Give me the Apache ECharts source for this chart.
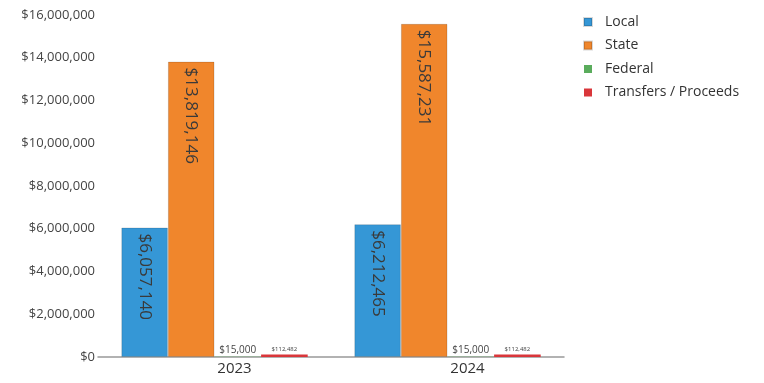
<!DOCTYPE html>
<html>
<head>
<meta charset="utf-8">
<script src="https://cdn.jsdelivr.net/npm/echarts@6/dist/echarts.min.js"></script>
<style>
  html, body { margin: 0; padding: 0; background: #fff; }
  #chart { width: 764px; height: 383px; }
</style>
</head>
<body>
<div id="chart"></div>
<script>
// revenue by source, two fiscal years
const YEARS     = ["2023", "2024"];
const LOCAL     = [6057140, 6212465];
const STATE     = [13819146, 15587231];
const FEDERAL   = [15000, 15000];
const TRANSFERS = [112482, 112482];
const Y_TICKS   = [0, 2000000, 4000000, 6000000, 8000000, 10000000, 12000000, 14000000, 16000000];

const FONT = "'Open Sans', 'Noto Sans', sans-serif";
const money = v => "$" + Math.round(v).toLocaleString("en-US");

const SRC = [
  { name: "Local",               data: LOCAL,     color: "#3597d6", big: true },
  { name: "State",               data: STATE,     color: "#f0862c", big: true },
  { name: "Federal",             data: FEDERAL,   color: "#5aac5c", big: false, fs: 10 },
  { name: "Transfers / Proceeds", data: TRANSFERS, color: "#d9363a", big: false, fs: 6 },
];

const chart = echarts.init(document.getElementById("chart"));

const series = SRC.map(s => ({
  name: s.name, type: "bar", data: s.data,
  barGap: "0%", barCategoryGap: "20%",
  itemStyle: { color: s.color, borderColor: "rgba(0,0,0,0.15)", borderWidth: s.big ? 1 : 0 },
  label: s.big
    ? { show: true, position: "insideTop", rotate: -90, align: "left", verticalAlign: "middle",
        distance: 6, fontSize: 17, color: "#3a3a3a", fontFamily: FONT, formatter: p => money(p.value) }
    : { show: true, position: "top", distance: 2, fontSize: s.fs, color: "#444", fontFamily: FONT,
        formatter: p => money(p.value) },
}));

chart.setOption({
  backgroundColor: "#fff", animation: false,
  textStyle: { fontFamily: FONT },
  grid: { left: 98, right: 200, top: 15, bottom: 26 },
  legend: {
    data: SRC.map(s => s.name), orient: "vertical", left: 578, top: 10,
    itemWidth: 8, itemHeight: 8, itemGap: 9.5, icon: "rect",
    textStyle: { color: "#333", fontSize: 14, fontFamily: FONT, padding: [0, 0, 0, 8] },
  },
  xAxis: {
    type: "category", data: YEARS,
    axisLine: { lineStyle: { color: "#999", width: 1.5 } },
    axisTick: { show: false },
    axisLabel: { color: "#333", fontSize: 15, margin: 4, padding: [0, 0, 0, 40] },
  },
  yAxis: {
    type: "value", min: 0, max: 16000000, interval: 2000000,
    axisLine: { show: false }, axisTick: { show: false },
    splitLine: { show: false },
    axisLabel: { color: "#444", fontSize: 13, margin: 3,
      formatter: v => Y_TICKS.includes(v) ? money(v) : "" },
  },
  series,
});
</script>
</body>
</html>
